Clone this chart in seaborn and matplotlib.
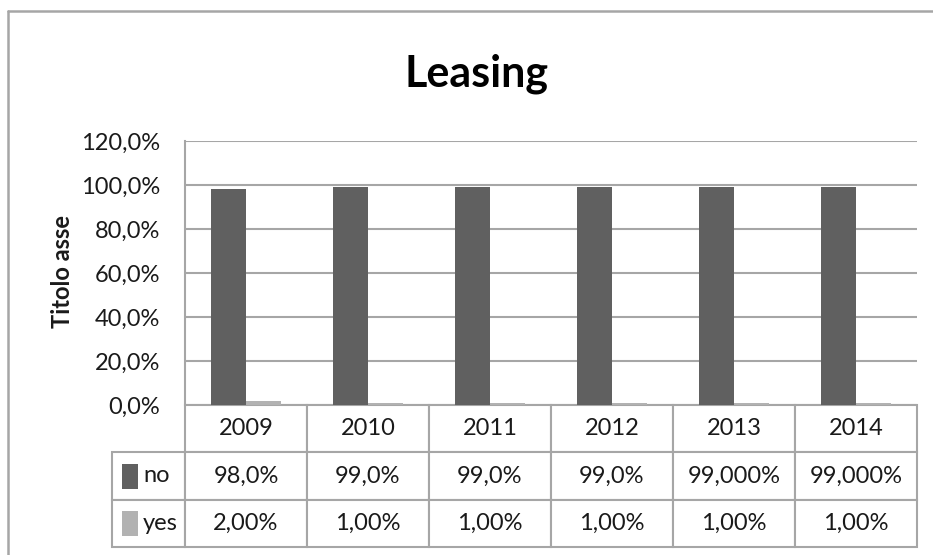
import numpy as np
import pandas as pd
import matplotlib
matplotlib.use("Agg")
import matplotlib.pyplot as plt
import seaborn as sns
from matplotlib.patches import Rectangle
from matplotlib.lines import Line2D
from matplotlib.ticker import FuncFormatter

# ---- data ----
years = ["2009", "2010", "2011", "2012", "2013", "2014"]
series = ["no", "yes"]
no_values = [0.98, 0.99, 0.99, 0.99, 0.99, 0.99]
yes_values = [0.02, 0.01, 0.01, 0.01, 0.01, 0.01]
no_labels = ["98,0%", "99,0%", "99,0%", "99,0%", "99,000%", "99,000%"]
yes_labels = ["2,00%", "1,00%", "1,00%", "1,00%", "1,00%", "1,00%"]
y_ticks = [0.0, 0.2, 0.4, 0.6, 0.8, 1.0, 1.2]
title = "Leasing"
y_title = "Titolo asse"

colors = ["#606060", "#b2b2b2"]
grid_col = "#a6a6a6"
text_col = "#1a1a1a"

sns.set_theme(style="white")
plt.rcParams["font.family"] = ["Lato", "DejaVu Sans"]

W, H = 933, 555
fig = plt.figure(figsize=(W / 100, H / 100), dpi=100)
fig.patch.set_facecolor("white")

ax_l, ax_r, ax_t, ax_b = 185, 917, 141, 405
aw, ah = ax_r - ax_l, ax_b - ax_t
ax = fig.add_axes([ax_l / W, 1 - ax_b / H, aw / W, ah / H])

df = pd.DataFrame({
    "year": years * 2,
    "series": [series[0]] * len(years) + [series[1]] * len(years),
    "value": no_values + yes_values,
})
sns.barplot(data=df, x="year", y="value", hue="series", order=years,
            hue_order=series, palette=colors, saturation=1, width=0.574,
            linewidth=0, legend=False, ax=ax)

ax.set_ylim(0, 1.2)
ax.set_yticks(y_ticks)
ax.yaxis.set_major_formatter(
    FuncFormatter(lambda v, p: f"{v * 100:.1f}".replace(".", ",") + "%"))
ax.grid(axis="y", color=grid_col, lw=1.5)
ax.grid(axis="x", visible=False)
ax.set_axisbelow(True)
for s in ["top", "right", "bottom"]:
    ax.spines[s].set_visible(False)
ax.spines["left"].set_color(grid_col)
ax.spines["left"].set_linewidth(1.5)
ax.tick_params(axis="y", length=0, pad=18, labelsize=17, labelcolor=text_col)
ax.tick_params(axis="x", length=0, labelbottom=False)
ax.set_xlabel("")
ax.set_ylabel("")

# ---- data table ----
lab_w = 73 / aw
tbl_h = (547 - ax_b) / ah
cell_text = [[""] + years, [series[0]] + no_labels, [series[1]] + yes_labels]
tbl = ax.table(cellText=cell_text, cellLoc="center",
               colWidths=[lab_w] + [1 / 6] * 6,
               bbox=[-lab_w, -tbl_h, 1 + lab_w, tbl_h])
tbl.auto_set_font_size(False)
tbl.set_fontsize(17)
for (r, c), cell in tbl.get_celld().items():
    cell.set_edgecolor(grid_col)
    cell.set_linewidth(1.5)
    cell.get_text().set_color(text_col)
    if r == 0 and c == 0:
        cell.visible_edges = ""
    if c == 0 and r > 0:
        cell._loc = "left"
        cell.PAD = 31 / 73
        cell.get_text().set_ha("left")

# legend keys in the table
row_h = tbl_h / 3
for i, col in enumerate(colors):
    yc = -row_h * (1.5 + i)
    kh = 25 / ah
    ax.add_patch(Rectangle(((122 - ax_l) / aw, yc - kh / 2), 16 / aw, kh,
                           transform=ax.transAxes, facecolor=col,
                           edgecolor="none", clip_on=False))

# ---- titles ----
fig.text(476 / W, 1 - 87 / H, title, fontsize=31, fontweight="bold",
         ha="center", va="baseline", color="black")
fig.text(62 / W, 1 - 272 / H, y_title, fontsize=17, fontweight="bold",
         rotation=90, ha="center", va="center", color=text_col)

# ---- outer chart border ----
fig.add_artist(Line2D([8 / W, 1], [1 - 11 / H] * 2, transform=fig.transFigure,
                      color=grid_col, lw=1.8))
fig.add_artist(Line2D([8 / W] * 2, [0, 1 - 11 / H], transform=fig.transFigure,
                      color=grid_col, lw=1.8))

fig.savefig("out.png", dpi=100, facecolor="white")
